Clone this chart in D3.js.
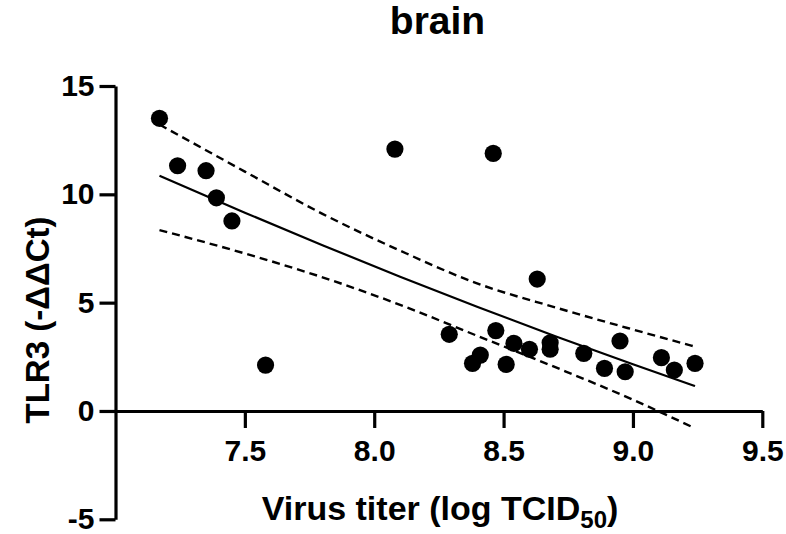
<!DOCTYPE html>
<html>
<head>
<meta charset="utf-8">
<script src="https://cdn.jsdelivr.net/npm/d3@7"></script>
<style>
  html, body { margin: 0; padding: 0; background: #fff; }
  svg { display: block; }
  text { font-family: "Liberation Sans", Arial, Helvetica, sans-serif; font-weight: bold; fill: #000; }
</style>
</head>
<body>
<svg id="chart" width="786" height="534"></svg>
<script>
// ---- data ----
const titleText = "brain";
const xLabelMain = "Virus titer (log TCID";
const xLabelSub = "50";
const yLabelText = "TLR3 (-\u0394\u0394Ct)";

const xTicks = [7.5, 8.0, 8.5, 9.0, 9.5];
const yTicks = [-5, 0, 5, 10, 15];

// scatter points: virus titer (x) and TLR3 -ddCt (y)
const titerX = [7.17, 7.24, 7.35, 7.39, 7.45, 7.58, 8.08, 8.46, 8.63,
                8.29, 8.47, 8.41, 8.38, 8.54, 8.60, 8.51, 8.68, 8.68,
                8.81, 8.95, 8.89, 8.97, 9.11, 9.16, 9.24];
const tlr3Y  = [13.51, 11.32, 11.09, 9.84, 8.77, 2.12, 12.09, 11.89, 6.09,
                3.54, 3.71, 2.58, 2.20, 3.12, 2.85, 2.15, 3.15, 2.85,
                2.66, 3.23, 1.97, 1.81, 2.46, 1.89, 2.20];

// regression fit and 95% confidence band (read at these x positions)
const fitX   = [7.17, 7.5, 7.8, 8.1, 8.4, 8.7, 9.0, 9.24];
const fitY   = [10.86, 9.15, 7.65, 6.20, 4.80, 3.45, 2.16, 1.15];
const upperY = [13.22, 11.05, 9.10, 7.40, 5.88, 4.78, 3.76, 2.97];
const lowerY = [8.35, 7.27, 6.17, 4.90, 3.46, 2.02, 0.52, -0.80];

// ---- drawing ----
const svg = d3.select("#chart");
const x = d3.scaleLinear().domain([7, 9.5]).range([115.5, 762.3]);
const y = d3.scaleLinear().domain([-5, 15]).range([519.3, 86]);

// title
svg.append("text")
  .attr("x", 437.5).attr("y", 34)
  .attr("text-anchor", "middle")
  .style("font-size", "39px")
  .text(titleText);

// y axis
const yAxis = svg.append("g")
  .attr("transform", `translate(${x(7)},0)`)
  .call(d3.axisLeft(y).tickValues(yTicks).tickSize(16).tickSizeOuter(0).tickPadding(5)
        .tickFormat(d => String(d)));
// x axis at y = 0
const xAxis = svg.append("g")
  .attr("transform", `translate(0,${y(0)})`)
  .call(d3.axisBottom(x).tickValues(xTicks).tickSize(17).tickSizeOuter(0).tickPadding(12)
        .tickFormat(d3.format(".1f")));

[yAxis, xAxis].forEach(g => {
  g.select(".domain").attr("stroke", "#000").attr("stroke-width", 3.2);
  g.selectAll(".tick line").attr("stroke", "#000").attr("stroke-width", 3.2);
  g.selectAll(".tick text")
    .style("font-size", "30px")
    .style("font-family", "'Liberation Sans', Arial, sans-serif")
    .style("font-weight", "bold")
    .attr("fill", "#000");
});

// axis labels
const xl = svg.append("text")
  .attr("x", 440).attr("y", 520)
  .attr("text-anchor", "middle")
  .style("font-size", "34px");
xl.append("tspan").text(xLabelMain);
xl.append("tspan").attr("dy", 8).style("font-size", "24px").text(xLabelSub);
xl.append("tspan").attr("dy", -8).text(")");

svg.append("text")
  .attr("transform", "translate(49,320) rotate(-90)")
  .attr("text-anchor", "middle")
  .style("font-size", "33px")
  .text(yLabelText);

// fit line and confidence band
const lineGen = (ys) => d3.line()
  .x((d, i) => x(fitX[i]))
  .y((d) => y(d))
  .curve(d3.curveMonotoneX)(ys);

svg.append("path").attr("d", lineGen(upperY))
  .attr("fill", "none").attr("stroke", "#000").attr("stroke-width", 2.4)
  .attr("stroke-dasharray", "8,5");
svg.append("path").attr("d", lineGen(lowerY))
  .attr("fill", "none").attr("stroke", "#000").attr("stroke-width", 2.4)
  .attr("stroke-dasharray", "8,5");
svg.append("path").attr("d", lineGen(fitY))
  .attr("fill", "none").attr("stroke", "#000").attr("stroke-width", 2.2);

// points
svg.append("g").selectAll("circle")
  .data(titerX.map((v, i) => [v, tlr3Y[i]]))
  .join("circle")
  .attr("cx", d => x(d[0]))
  .attr("cy", d => y(d[1]))
  .attr("r", 8.6)
  .attr("fill", "#000");
</script>
</body>
</html>
